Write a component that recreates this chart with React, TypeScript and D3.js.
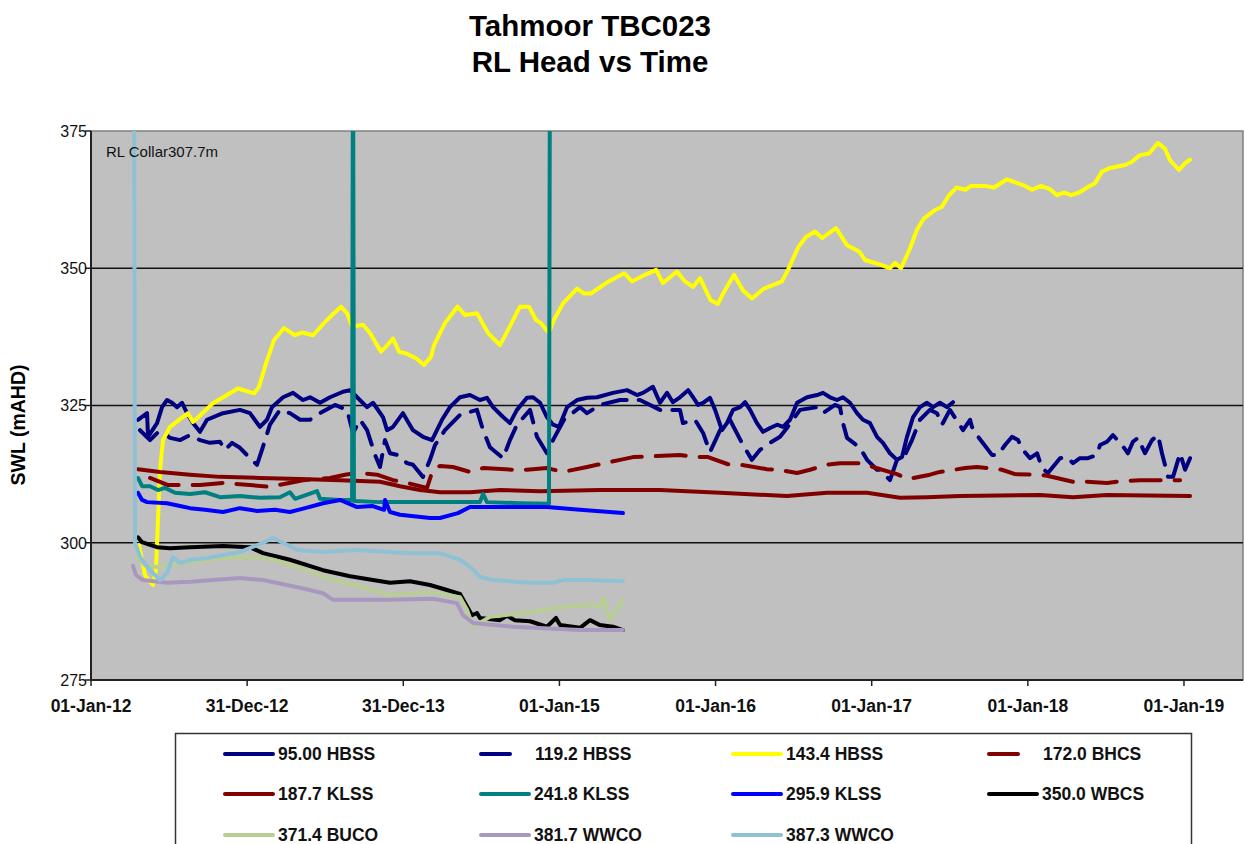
import React from "react";
import * as d3 from "d3";

type P = [number, number];

// ---------- data (decimal year, mAHD) ----------
const hbss95: P[] = [[2012.301,322.4],[2012.359,323.6],[2012.365,319.3],[2012.423,321.8],[2012.455,324.7],[2012.487,326.0],[2012.519,325.5],[2012.551,324.7],[2012.583,325.5],[2012.615,323.6],[2012.653,321.8],[2012.698,320.2],[2012.743,322.4],[2012.845,323.6],[2012.954,324.2],[2013.018,323.6],[2013.082,321.1],[2013.127,322.4],[2013.159,324.7],[2013.230,326.5],[2013.294,327.3],[2013.358,326.0],[2013.403,326.5],[2013.467,325.5],[2013.531,326.5],[2013.614,327.5],[2013.659,327.8],[2013.704,326.5],[2013.768,324.7],[2013.806,325.5],[2013.870,322.9],[2013.896,320.5],[2013.934,321.1],[2013.998,323.6],[2014.062,320.5],[2014.126,319.3],[2014.184,318.7],[2014.248,322.4],[2014.299,324.7],[2014.363,326.5],[2014.427,326.9],[2014.491,326.0],[2014.536,326.4],[2014.575,324.7],[2014.639,322.9],[2014.683,321.8],[2014.728,324.2],[2014.792,326.4],[2014.831,326.5],[2014.876,325.5],[2014.920,322.9],[2014.959,321.5],[2014.997,321.1],[2015.049,324.7],[2015.113,326.0],[2015.177,326.4],[2015.241,326.5],[2015.343,327.3],[2015.433,327.8],[2015.497,326.9],[2015.535,327.3],[2015.599,328.4],[2015.644,325.5],[2015.689,327.3],[2015.727,325.6],[2015.772,326.5],[2015.824,327.8],[2015.856,326.5],[2015.888,325.1],[2015.920,325.5],[2015.964,326.4],[2015.997,324.2],[2016.041,320.5],[2016.073,321.8],[2016.112,324.2],[2016.157,324.7],[2016.189,325.6],[2016.221,324.2],[2016.265,321.8],[2016.304,320.2],[2016.349,320.9],[2016.394,321.5],[2016.432,321.1],[2016.477,322.4],[2016.522,325.5],[2016.586,326.5],[2016.650,326.9],[2016.688,327.3],[2016.733,326.5],[2016.778,326.0],[2016.816,326.5],[2016.861,325.5],[2016.906,323.6],[2016.944,322.4],[2016.989,321.8],[2017.034,319.3],[2017.072,318.2],[2017.117,316.3],[2017.162,315.1],[2017.194,315.6],[2017.226,319.3],[2017.265,322.9],[2017.309,324.7],[2017.354,325.5],[2017.393,324.7],[2017.437,325.5],[2017.482,324.7],[2017.521,325.6]];

const hbss119: P[] = [[2012.314,320.5],[2012.378,318.7],[2012.442,320.5],[2012.506,319.1],[2012.570,318.7],[2012.634,319.6],[2012.698,318.7],[2012.762,318.2],[2012.826,318.4],[2012.858,316.9],[2012.903,318.2],[2012.954,317.3],[2013.018,315.4],[2013.063,314.2],[2013.095,316.9],[2013.146,321.5],[2013.210,324.2],[2013.274,323.6],[2013.339,322.4],[2013.403,322.4],[2013.467,323.6],[2013.563,325.1],[2013.640,324.2],[2013.678,320.0],[2013.723,322.4],[2013.768,320.5],[2013.819,316.0],[2013.851,313.8],[2013.883,318.7],[2013.915,316.3],[2013.960,316.0],[2014.024,314.5],[2014.062,314.2],[2014.126,312.0],[2014.171,315.1],[2014.203,317.8],[2014.267,320.5],[2014.363,323.3],[2014.472,324.2],[2014.511,320.5],[2014.555,317.4],[2014.639,315.4],[2014.683,318.7],[2014.728,321.5],[2014.812,324.2],[2014.856,319.3],[2014.920,316.3],[2014.959,318.7],[2015.029,322.4],[2015.132,324.7],[2015.177,323.6],[2015.260,325.1],[2015.388,326.0],[2015.516,326.0],[2015.644,324.2],[2015.772,324.2],[2015.791,321.8],[2015.868,322.4],[2015.920,320.0],[2015.964,316.5],[2016.029,320.5],[2016.092,322.4],[2016.176,317.8],[2016.233,315.1],[2016.284,316.9],[2016.349,318.2],[2016.413,319.3],[2016.457,320.9],[2016.541,324.2],[2016.650,324.7],[2016.688,323.6],[2016.765,325.1],[2016.797,324.7],[2016.816,321.8],[2016.842,319.1],[2016.925,317.3],[2016.970,315.1],[2017.034,313.3],[2017.053,313.3],[2017.117,311.4],[2017.162,315.1],[2017.213,316.0],[2017.258,318.7],[2017.309,322.4],[2017.373,324.2],[2017.418,323.6],[2017.450,321.5],[2017.501,324.2],[2017.585,320.5],[2017.630,322.4],[2017.642,321.1],[2017.674,319.6],[2017.770,316.0],[2017.809,316.0],[2017.854,317.8],[2017.899,319.3],[2017.937,318.7],[2017.969,316.9],[2018.014,315.4],[2018.059,316.3],[2018.091,313.6],[2018.129,312.7],[2018.206,315.4],[2018.251,315.6],[2018.289,314.5],[2018.334,315.4],[2018.385,315.4],[2018.443,316.0],[2018.462,317.8],[2018.507,318.4],[2018.545,319.6],[2018.603,317.8],[2018.641,316.3],[2018.673,318.4],[2018.705,319.1],[2018.750,316.3],[2018.795,318.7],[2018.834,319.6],[2018.859,316.3],[2018.898,312.0],[2018.930,312.0],[2018.975,316.3],[2019.007,313.3],[2019.039,315.4]];

const hbss143: P[] = [[2012.307,299.6],[2012.346,294.1],[2012.378,292.9],[2012.397,292.3],[2012.416,295.0],[2012.429,304.1],[2012.442,313.3],[2012.461,318.7],[2012.506,321.1],[2012.621,323.6],[2012.653,322.0],[2012.781,325.4],[2012.941,328.1],[2013.044,327.2],[2013.076,328.4],[2013.121,332.7],[2013.172,336.9],[2013.236,339.1],[2013.307,337.8],[2013.351,338.3],[2013.422,337.8],[2013.492,340.0],[2013.556,341.8],[2013.601,343.0],[2013.640,341.8],[2013.672,339.4],[2013.742,339.7],[2013.787,338.2],[2013.857,334.8],[2013.889,335.7],[2013.934,337.2],[2013.973,334.8],[2014.017,334.5],[2014.081,333.6],[2014.133,332.4],[2014.178,333.9],[2014.197,336.0],[2014.267,340.0],[2014.347,343.0],[2014.395,341.5],[2014.472,341.8],[2014.543,338.2],[2014.619,336.0],[2014.677,339.1],[2014.747,343.0],[2014.805,343.0],[2014.850,340.6],[2014.882,340.0],[2014.933,338.2],[2014.965,340.6],[2015.023,343.6],[2015.113,346.3],[2015.157,345.4],[2015.202,345.4],[2015.298,347.3],[2015.414,349.1],[2015.465,347.6],[2015.548,348.8],[2015.619,349.7],[2015.663,347.3],[2015.753,349.4],[2015.804,347.6],[2015.855,346.6],[2015.900,348.2],[2015.968,344.2],[2016.015,343.5],[2016.060,346.0],[2016.118,348.8],[2016.175,346.0],[2016.233,344.5],[2016.310,346.3],[2016.425,347.6],[2016.464,349.7],[2016.531,353.9],[2016.579,355.7],[2016.637,356.7],[2016.682,355.5],[2016.771,357.3],[2016.842,354.2],[2016.922,353.0],[2016.957,351.5],[2017.060,350.6],[2017.117,350.0],[2017.149,351.0],[2017.188,350.0],[2017.245,353.6],[2017.290,357.0],[2017.335,359.1],[2017.405,360.6],[2017.450,361.2],[2017.495,363.3],[2017.543,364.7],[2017.601,364.3],[2017.636,365.0],[2017.726,365.0],[2017.783,364.7],[2017.867,366.2],[2017.924,365.6],[2017.982,365.0],[2018.027,364.3],[2018.084,365.0],[2018.142,364.4],[2018.187,363.3],[2018.232,363.8],[2018.277,363.3],[2018.328,363.8],[2018.373,364.6],[2018.430,365.5],[2018.475,367.6],[2018.520,368.2],[2018.622,368.8],[2018.667,369.4],[2018.718,370.6],[2018.776,370.9],[2018.833,372.8],[2018.878,371.8],[2018.910,369.7],[2018.968,367.9],[2019.006,369.1],[2019.038,369.8]];

const bhcs172: P[] = [[2012.378,311.8],[2012.493,310.5],[2012.698,310.5],[2012.845,310.9],[2013.018,310.5],[2013.146,310.2],[2013.358,311.4],[2013.531,311.8],[2013.627,312.4],[2013.704,312.7],[2013.832,312.4],[2013.934,311.4],[2014.024,310.9],[2014.152,310.0],[2014.190,313.3],[2014.235,314.0],[2014.318,313.8],[2014.427,312.9],[2014.511,313.6],[2014.703,313.3],[2014.792,313.3],[2014.920,313.6],[2015.023,312.9],[2015.177,313.8],[2015.241,314.2],[2015.388,315.1],[2015.471,315.6],[2015.625,315.8],[2015.772,316.0],[2015.881,315.6],[2015.952,315.6],[2016.080,314.3],[2016.144,314.3],[2016.329,313.4],[2016.400,313.3],[2016.522,312.7],[2016.605,313.3],[2016.714,314.2],[2016.797,314.5],[2016.944,314.5],[2017.008,313.8],[2017.162,312.5],[2017.233,311.6],[2017.373,312.4],[2017.437,312.9],[2017.598,313.6],[2017.674,313.8],[2017.834,313.3],[2017.918,312.5],[2018.078,312.4],[2018.123,312.2],[2018.289,311.1],[2018.379,311.1],[2018.507,310.9],[2018.590,311.2],[2018.718,311.4],[2018.827,311.4],[2018.975,311.4]];

const klss187: P[] = [[2012.301,313.4],[2012.442,312.9],[2012.634,312.4],[2012.826,312.0],[2013.082,311.8],[2013.339,311.6],[2013.595,311.4],[2013.851,311.1],[2013.979,310.3],[2014.107,309.6],[2014.235,309.2],[2014.427,309.2],[2014.619,309.6],[2014.876,309.4],[2015.260,309.6],[2015.644,309.6],[2016.029,309.1],[2016.457,308.5],[2016.714,309.1],[2016.970,309.1],[2017.181,308.2],[2017.354,308.3],[2017.565,308.5],[2018.078,308.7],[2018.289,308.3],[2018.507,308.7],[2019.039,308.5]];

const klss241: P[] = [[2012.301,311.8],[2012.327,310.3],[2012.378,310.3],[2012.429,309.6],[2012.474,310.0],[2012.538,309.1],[2012.634,308.9],[2012.730,309.2],[2012.826,308.3],[2012.954,308.5],[2013.082,308.2],[2013.210,308.3],[2013.274,309.2],[2013.307,308.0],[2013.448,309.4],[2013.467,308.0],[2013.595,307.8],[2013.672,307.8],[2013.678,400],[2013.684,307.6],[2013.851,307.4],[2014.107,307.4],[2014.491,307.4],[2014.511,308.9],[2014.536,307.4],[2014.747,307.2],[2014.933,307.1],[2014.940,400]];

const klss295: P[] = [[2012.301,309.1],[2012.327,307.8],[2012.359,307.4],[2012.487,307.2],[2012.570,306.7],[2012.634,306.3],[2012.730,306.0],[2012.845,305.6],[2012.954,306.3],[2013.063,305.8],[2013.178,306.0],[2013.274,305.6],[2013.371,306.3],[2013.486,307.2],[2013.595,307.8],[2013.704,306.5],[2013.800,306.7],[2013.877,306.0],[2013.883,307.8],[2013.915,305.6],[2013.979,305.1],[2014.171,304.5],[2014.235,304.5],[2014.350,305.4],[2014.427,306.5],[2014.619,306.5],[2014.920,306.5],[2015.132,306.0],[2015.407,305.4]];

const wbcs350: P[] = [[2012.301,301.0],[2012.327,300.1],[2012.378,299.6],[2012.423,299.2],[2012.506,299.0],[2012.634,299.2],[2012.845,299.4],[2013.018,299.2],[2013.102,298.1],[2013.274,296.9],[2013.486,295.0],[2013.659,293.9],[2013.806,293.2],[2013.915,292.7],[2014.043,293.0],[2014.171,292.3],[2014.280,291.4],[2014.363,290.7],[2014.402,288.7],[2014.440,286.8],[2014.472,287.2],[2014.491,286.3],[2014.619,285.9],[2014.664,286.7],[2014.715,285.9],[2014.812,285.7],[2014.920,284.7],[2014.978,286.3],[2015.004,285.0],[2015.132,284.5],[2015.196,285.9],[2015.260,285.0],[2015.343,284.7],[2015.407,284.1]];

const buco371: P[] = [[2012.295,297.4],[2012.346,295.9],[2012.423,295.6],[2012.634,296.5],[2012.845,297.2],[2013.018,297.4],[2013.166,296.9],[2013.339,295.4],[2013.486,293.8],[2013.659,292.5],[2013.806,291.4],[2013.915,290.5],[2014.171,291.0],[2014.363,290.1],[2014.408,287.8],[2014.447,284.7],[2014.555,286.5],[2014.812,287.4],[2015.023,288.3],[2015.196,288.7],[2015.260,288.3],[2015.279,290.1],[2015.324,285.9],[2015.407,289.6]];

const wwco381: P[] = [[2012.269,295.8],[2012.288,294.1],[2012.333,293.2],[2012.487,292.7],[2012.634,292.9],[2012.954,293.6],[2013.102,293.2],[2013.339,291.8],[2013.486,290.8],[2013.550,289.6],[2013.915,289.6],[2014.190,289.8],[2014.344,289.0],[2014.382,286.8],[2014.447,285.4],[2014.703,284.7],[2015.132,284.1],[2015.407,284.1]];

const wwco387: P[] = [[2012.275,400],[2012.282,300.0],[2012.314,297.4],[2012.378,295.0],[2012.442,293.2],[2012.487,294.5],[2012.525,297.4],[2012.570,296.3],[2012.634,296.9],[2012.743,297.2],[2012.954,298.3],[2013.102,300.0],[2013.166,300.9],[2013.230,300.0],[2013.319,298.7],[2013.486,298.3],[2013.704,298.7],[2013.915,298.3],[2014.043,298.1],[2014.235,298.1],[2014.363,296.9],[2014.427,295.6],[2014.491,293.8],[2014.575,293.2],[2014.812,292.7],[2014.959,292.7],[2015.023,293.2],[2015.177,293.2],[2015.407,293.0]];

const seriesNames = ["95.00 HBSS","119.2 HBSS","143.4 HBSS","172.0 BHCS","187.7 KLSS","241.8 KLSS","295.9 KLSS","350.0 WBCS","371.4 BUCO","381.7 WWCO","387.3 WWCO"];
const seriesData: P[][] = [hbss95, hbss119, hbss143, bhcs172, klss187, klss241, klss295, wbcs350, buco371, wwco381, wwco387];
const seriesColors = ["#000080","#000080","#FFFF00","#800000","#800000","#008080","#0000FF","#000000","#B8CE95","#A898BF","#8FC1D6"];
const seriesDashed = [false,true,false,true,false,false,false,false,false,false,false];

const yTicks = [275, 300, 325, 350, 375];
const xTickValues = [2012, 2013, 2014, 2015, 2016, 2017, 2018, 2019];
const xTickLabels = ["01-Jan-12","31-Dec-12","31-Dec-13","01-Jan-15","01-Jan-16","01-Jan-17","01-Jan-18","01-Jan-19"];

const FONT = "'Liberation Sans', Arial, Helvetica, sans-serif";

export default function App() {
  const W = 1245, H = 844;
  const L = 91, R = 1243, T = 131, B = 680;
  const x = d3.scaleLinear().domain([2012, 2019.378]).range([L, R]);
  const y = d3.scaleLinear().domain([275, 375]).range([B, T]);
  const line = d3.line<P>().x(d => x(d[0])).y(d => y(d[1]));

  const legCols = [223, 479, 731, 987];
  const legRows = [754, 794, 835];

  return (
    <svg width={W} height={H} style={{ position: "absolute", left: 0, top: 0, background: "#fff" }} fontFamily={FONT}>
      <defs>
        <clipPath id="plotclip"><rect x={L} y={T} width={R - L} height={B - T} /></clipPath>
      </defs>
      <text x={590} y={36} textAnchor="middle" fontSize={29.5} fontWeight="bold">Tahmoor TBC023</text>
      <text x={590} y={72} textAnchor="middle" fontSize={29.5} fontWeight="bold">RL Head vs Time</text>

      <rect x={L} y={T} width={R - L} height={B - T} fill="#C0C0C0" stroke="#808080" strokeWidth={1.5} />
      {yTicks.filter(v => v > 275 && v < 375).map(v => (
        <line key={v} x1={L} x2={R} y1={y(v)} y2={y(v)} stroke="#111" strokeWidth={1.5} />
      ))}

      <g clipPath="url(#plotclip)">
        {seriesData.map((d, i) => (
          <path key={i} d={line(d) || ""} fill="none" stroke={seriesColors[i]} strokeWidth={4}
            strokeLinejoin="round" strokeLinecap="round"
            strokeDasharray={seriesDashed[i] ? (i === 1 ? "24,12" : "30,14") : undefined} />
        ))}
      </g>

      <text x={106} y={157} fontSize={15} fill="#111">RL Collar307.7m</text>

      <line x1={L} x2={L} y1={T} y2={B + 1} stroke="#222" strokeWidth={2} />
      <line x1={L - 1} x2={R} y1={B} y2={B} stroke="#222" strokeWidth={2} />
      {yTicks.map(v => (
        <g key={v}>
          <line x1={L - 6} x2={L} y1={y(v)} y2={y(v)} stroke="#222" strokeWidth={1.5} />
          <text x={L - 4} y={y(v)} dy="0.36em" textAnchor="end" fontSize={16} fill="#111">{v}</text>
        </g>
      ))}
      {xTickValues.map((v, i) => (
        <g key={v}>
          <line x1={x(v)} x2={x(v)} y1={B} y2={B + 6} stroke="#222" strokeWidth={1.5} />
          <text x={x(v)} y={712} textAnchor="middle" fontSize={17.5} fontWeight="bold" fill="#111">{xTickLabels[i]}</text>
        </g>
      ))}
      <text transform={`translate(25,425) rotate(-90)`} textAnchor="middle" fontSize={19.5} fontWeight="bold">SWL (mAHD)</text>

      <rect x={175.5} y={733.5} width={1016} height={200} fill="#fff" stroke="#333" strokeWidth={1.5} />
      {seriesNames.map((n, i) => {
        const cx = legCols[i % 4];
        const cy = legRows[Math.floor(i / 4)];
        const dashed = seriesDashed[i];
        return (
          <g key={n}>
            <line x1={cx + 2} x2={cx + (dashed ? 31 : 50)} y1={cy} y2={cy} stroke={seriesColors[i]} strokeWidth={4} strokeLinecap="round" />
            <text x={cx + (dashed ? 56 : 55)} y={cy} dy="0.36em" fontSize={17.5} fontWeight="bold" fill="#111">{n}</text>
          </g>
        );
      })}
    </svg>
  );
}
